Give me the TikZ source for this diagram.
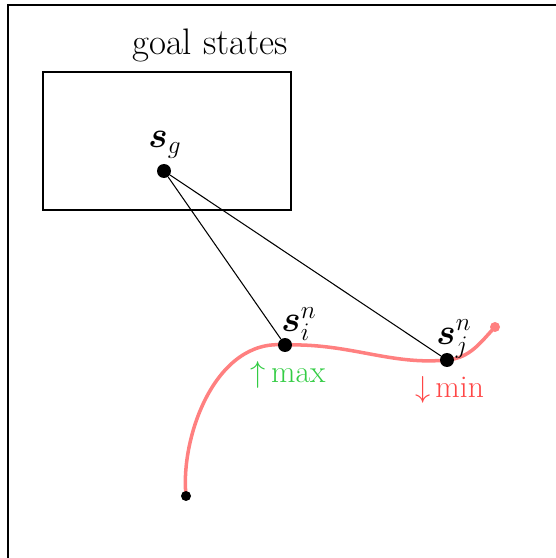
\documentclass[tikz,border=0pt]{standalone}
\usepackage{amsmath}
\usepackage{amssymb}
\usepackage{bm}
\usepackage{tikz}
\usetikzlibrary{backgrounds}

\definecolor{trajred}{RGB}{255,128,128}
\definecolor{maxgreen}{RGB}{51,204,68}
\definecolor{minred}{RGB}{255,70,70}

\begin{document}
\begin{tikzpicture}[
  dot/.style={circle,fill=black,inner sep=0pt,minimum size=#1},
  dot/.default=0.28cm]
  \useasboundingbox (0,0) rectangle (11.1,11.16);
  \draw[line width=1.7pt] (0.16,0) -- (0.16,11.06) -- (11.3,11.06);
  \draw[line width=1.5pt] (0.86,6.96) rectangle (5.82,9.72);
  \node (goal) at (4.2,10.26) {\fontsize{21}{25}\selectfont goal states};
  \node[dot] (sg) at (3.28,7.74) {};
  \node[dot] (si) at (5.70,4.26) {};
  \node[dot] (sj) at (8.94,3.96) {};
  \node[dot=0.2cm] (start) at (3.72,1.24) {};
  \node[dot=0.2cm,fill=trajred] (stop) at (9.90,4.62) {};
  \node (sglabel) at (3.30,8.26) {\huge $\bm{s}_g$};
  \node (silabel) at (5.98,4.68) {\huge $\bm{s}_i^n$};
  \node (sjlabel) at (9.08,4.38) {\huge $\bm{s}_j^n$};
  \node[maxgreen] (max) at (5.76,3.66) {\fontsize{18}{22}\selectfont $\uparrow$\,max};
  \node[minred] (min) at (8.99,3.36) {\fontsize{18}{22}\selectfont $\downarrow$\,min};
  \draw[line width=0.6pt] (sg) -- (si);
  \draw[line width=0.6pt] (sg) -- (sj);
  \begin{scope}[on background layer]
    \draw[trajred, line width=2pt] (start.center)
      .. controls (3.6,2.4) and (4.3,4.4) .. (si.center)
      .. controls (7.0,4.3) and (7.8,3.85) .. (sj.center)
      .. controls (9.4,4.0) and (9.6,4.3) .. (stop.center);
  \end{scope}
\end{tikzpicture}
\end{document}
